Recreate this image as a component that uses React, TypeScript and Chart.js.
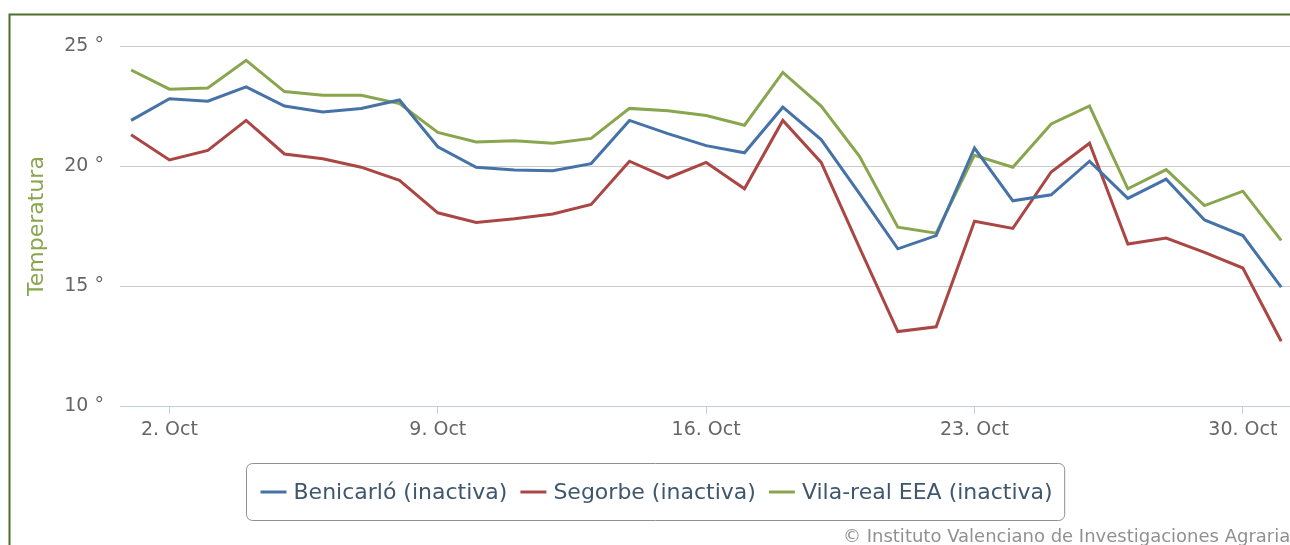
import React, { useEffect, useRef } from 'react';
import { Chart, registerables } from 'chart.js';

Chart.register(...registerables);

// ---- data ----
const days = [1, 2, 3, 4, 5, 6, 7, 8, 9, 10, 11, 12, 13, 14, 15, 16, 17, 18, 19, 20, 21, 22, 23, 24, 25, 26, 27, 28, 29, 30, 31];
const benicarlo = [21.9, 22.8, 22.7, 23.3, 22.5, 22.25, 22.4, 22.75, 20.8, 19.95, 19.83, 19.8, 20.1, 21.9, 21.35, 20.85, 20.55, 22.45, 21.1, 18.85, 16.55, 17.1, 20.75, 18.55, 18.8, 20.2, 18.65, 19.45, 17.75, 17.1, 14.95];
const segorbe = [21.3, 20.25, 20.65, 21.9, 20.5, 20.3, 19.95, 19.4, 18.05, 17.65, 17.8, 18.0, 18.4, 20.2, 19.5, 20.15, 19.05, 21.9, 20.15, 16.6, 13.1, 13.3, 17.7, 17.4, 19.75, 20.95, 16.75, 17.0, 16.4, 15.75, 12.7];
const vilareal = [24.0, 23.2, 23.25, 24.4, 23.1, 22.95, 22.95, 22.6, 21.4, 21.0, 21.05, 20.95, 21.15, 22.4, 22.3, 22.1, 21.7, 23.9, 22.5, 20.4, 17.45, 17.2, 20.45, 19.95, 21.75, 22.5, 19.05, 19.85, 18.35, 18.95, 16.9];
const seriesNames = ['Benicarló (inactiva)', 'Segorbe (inactiva)', 'Vila-real EEA (inactiva)'];
const seriesValues = [benicarlo, segorbe, vilareal];
const seriesColors = ['#4572A7', '#AA4643', '#89A54E'];
const xTickDays = [2, 9, 16, 23, 30];
const monthLabel = 'Oct';
const yMin = 10;
const yMax = 25;
const yStep = 5;
const yAxisTitle = 'Temperatura';
const creditText = '© Instituto Valenciano de Investigaciones Agrarias';

const FONT = '"DejaVu Sans", Verdana, sans-serif';

const framePlugin = {
  id: 'frameAndExtras',
  afterDraw(chart: any) {
    const ctx = chart.ctx;
    const W = chart.width;
    const H = chart.height;
    ctx.save();
    // outer green frame (left and top edges visible)
    ctx.strokeStyle = '#4e6e2e';
    ctx.lineWidth = 2;
    ctx.beginPath();
    ctx.moveTo(9.5, H);
    ctx.lineTo(9.5, 14.5);
    ctx.lineTo(W, 14.5);
    ctx.stroke();

    // legend box
    const datasets = chart.data.datasets;
    ctx.font = '22px ' + FONT;
    const lineW = 26;
    const gapLineText = 7;
    const gapItems = 13;
    const padL = 14;
    const padR = 12;
    const widths = datasets.map((d: any) => ctx.measureText(d.label).width);
    let inner = 0;
    widths.forEach((w: number, i: number) => {
      inner += lineW + gapLineText + w + (i < widths.length - 1 ? gapItems : 0);
    });
    const boxW = padL + inner + padR;
    const centerX = 655;
    const boxL = Math.round(centerX - boxW / 2) + 0.5;
    const boxT = 463.5;
    const boxH = 57;
    const r = 6;
    ctx.strokeStyle = '#909090';
    ctx.lineWidth = 1;
    ctx.beginPath();
    ctx.moveTo(boxL + r, boxT);
    ctx.lineTo(boxL + boxW - r, boxT);
    ctx.arcTo(boxL + boxW, boxT, boxL + boxW, boxT + r, r);
    ctx.lineTo(boxL + boxW, boxT + boxH - r);
    ctx.arcTo(boxL + boxW, boxT + boxH, boxL + boxW - r, boxT + boxH, r);
    ctx.lineTo(boxL + r, boxT + boxH);
    ctx.arcTo(boxL, boxT + boxH, boxL, boxT + boxH - r, r);
    ctx.lineTo(boxL, boxT + r);
    ctx.arcTo(boxL, boxT, boxL + r, boxT, r);
    ctx.closePath();
    ctx.stroke();

    const cy = boxT + boxH / 2;
    let x = boxL + padL;
    ctx.textBaseline = 'middle';
    ctx.textAlign = 'left';
    datasets.forEach((d: any, i: number) => {
      ctx.strokeStyle = d.borderColor;
      ctx.lineWidth = 3;
      ctx.beginPath();
      ctx.moveTo(x, cy);
      ctx.lineTo(x + lineW, cy);
      ctx.stroke();
      x += lineW + gapLineText;
      ctx.fillStyle = '#3E576F';
      ctx.fillText(d.label, x, cy + 1);
      x += widths[i] + gapItems;
    });

    // credits
    ctx.font = '18px ' + FONT;
    ctx.fillStyle = '#909090';
    ctx.textAlign = 'left';
    ctx.textBaseline = 'middle';
    ctx.fillText(creditText, 843, 537);
    ctx.restore();
  },
};

export default function App() {
  const ref = useRef<HTMLCanvasElement | null>(null);

  useEffect(() => {
    document.body.style.margin = '0';
    const canvas = ref.current;
    if (!canvas) return;
    const chart = new Chart(canvas, {
      type: 'line',
      data: {
        datasets: seriesValues.map((vals, i) => ({
          label: seriesNames[i],
          data: days.map((d, j) => ({ x: d, y: vals[j] })),
          borderColor: seriesColors[i],
          backgroundColor: seriesColors[i],
          borderWidth: 3,
          pointRadius: 0,
          pointHoverRadius: 0,
          tension: 0,
          fill: false,
        })),
      },
      options: {
        animation: false,
        responsive: false,
        maintainAspectRatio: false,
        layout: { padding: { top: 46, left: 0, right: 0, bottom: 0 } },
        plugins: {
          legend: { display: false },
          tooltip: { enabled: false },
          title: { display: false },
        },
        scales: {
          x: {
            type: 'linear',
            min: 0.71,
            max: 31.23,
            afterBuildTicks: (scale: any) => {
              scale.ticks = xTickDays.map((v) => ({ value: v }));
            },
            afterFit: (scale: any) => {
              scale.height = 139;
            },
            grid: {
              drawOnChartArea: false,
              drawTicks: true,
              tickLength: 8,
              color: '#C0D0E0',
            },
            border: { display: true, color: '#C0D0E0', width: 1 },
            ticks: {
              autoSkip: false,
              maxRotation: 0,
              padding: 5,
              color: '#666666',
              font: { family: FONT, size: 19 },
              callback: (v: any) => `${v}. ${monthLabel}`,
            },
          },
          y: {
            min: yMin,
            max: yMax,
            afterFit: (scale: any) => {
              scale.width = 120;
            },
            ticks: {
              stepSize: yStep,
              padding: 16,
              color: '#666666',
              font: { family: FONT, size: 19 },
              callback: (v: any) => `${v} °`,
            },
            grid: { color: '#CCCCCC', lineWidth: 1, drawTicks: false },
            border: { display: false },
            title: {
              display: true,
              text: yAxisTitle,
              color: '#89A54E',
              font: { family: FONT, size: 22, weight: 'normal' },
              padding: { top: 24, bottom: 0 },
            },
          },
        },
      },
      plugins: [framePlugin],
    });
    return () => chart.destroy();
  }, []);

  return (
    <div style={{ width: 1290, height: 545, position: 'relative' }}>
      <canvas ref={ref} width={1290} height={545} style={{ display: 'block' }} />
    </div>
  );
}
